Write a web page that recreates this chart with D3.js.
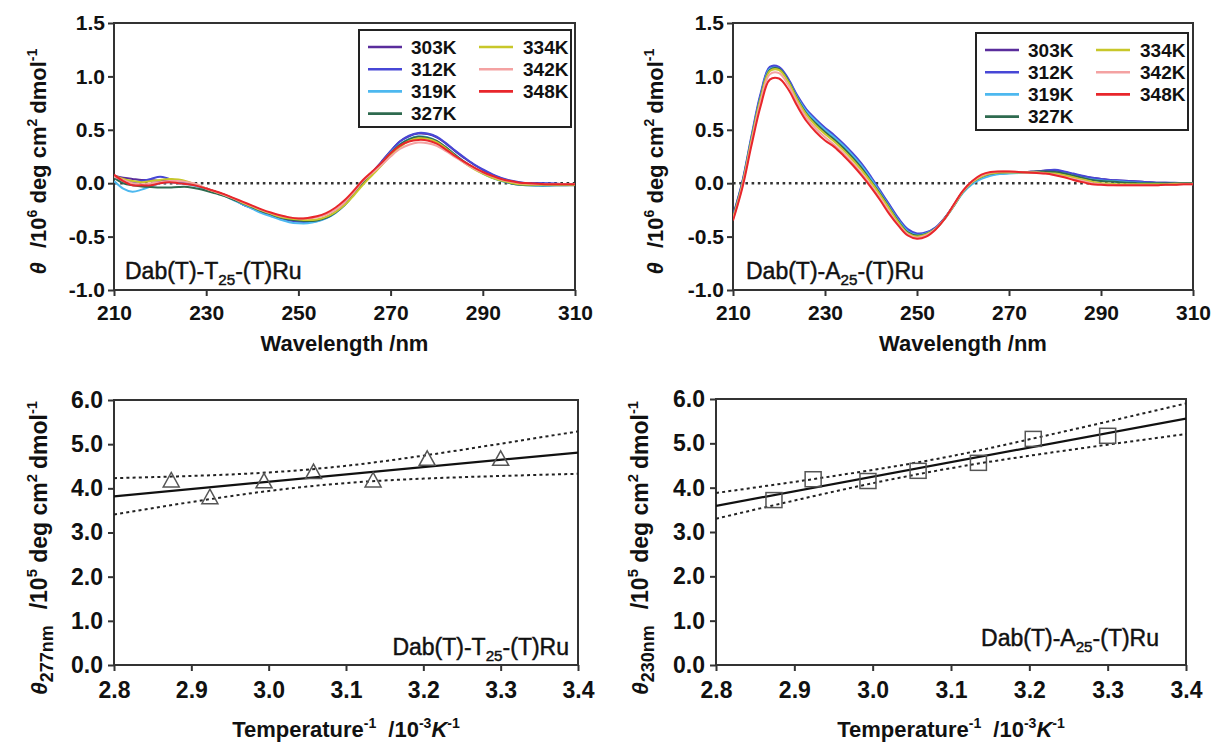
<!DOCTYPE html>
<html><head><meta charset="utf-8">
<script src="https://cdn.jsdelivr.net/npm/d3@7"></script>
<style>
body{margin:0;background:#fff;}
svg{display:block;font-family:"Liberation Sans",Arial,Helvetica,sans-serif;}
</style></head>
<body><svg id="c" width="1212" height="747"></svg>
<script>
// ---------------- DATA ----------------
const temps = ["303K","312K","319K","327K","334K","342K","348K"];
const wavelengths = [210,212,214,216,218,220,222,224,226,228,230,232,234,236,238,240,242,244,246,248,250,252,254,256,258,260,262,264,266,268,270,272,274,276,278,280,282,284,286,288,290,292,294,296,298,300,302,304,306,308,310];

// Dab(T)-T25-(T)Ru, theta /1e6
const t25_303 = [0.07,0.05,0.04,0.03,0.03,0.02,0.02,0.01,0.0,-0.02,-0.05,-0.08,-0.11,-0.15,-0.20,-0.23,-0.265,-0.295,-0.32,-0.34,-0.355,-0.36,-0.35,-0.32,-0.27,-0.20,-0.10,0.01,0.10,0.20,0.30,0.39,0.44,0.465,0.46,0.43,0.37,0.30,0.235,0.175,0.125,0.08,0.045,0.02,0.005,0.0,0.0,-0.005,-0.005,-0.01,-0.01];
const t25_312 = [0.05,0.03,0.01,0.02,0.04,0.06,0.04,0.02,0.0,-0.02,-0.05,-0.08,-0.11,-0.15,-0.20,-0.235,-0.27,-0.30,-0.33,-0.35,-0.36,-0.365,-0.355,-0.325,-0.275,-0.205,-0.105,0.005,0.095,0.195,0.30,0.39,0.445,0.47,0.465,0.435,0.375,0.305,0.24,0.18,0.13,0.085,0.05,0.025,0.01,0.0,0.0,0.0,-0.005,-0.01,-0.01];
const t25_319 = [0.02,-0.05,-0.08,-0.06,-0.03,0.0,0.01,0.0,-0.01,-0.03,-0.06,-0.09,-0.12,-0.16,-0.20,-0.24,-0.28,-0.31,-0.34,-0.365,-0.375,-0.375,-0.36,-0.33,-0.28,-0.205,-0.105,0.0,0.09,0.185,0.285,0.365,0.415,0.44,0.43,0.395,0.335,0.265,0.20,0.14,0.09,0.05,0.02,0.0,-0.015,-0.02,-0.025,-0.025,-0.02,-0.02,-0.015];
const t25_327 = [0.05,0.0,-0.02,-0.03,-0.035,-0.04,-0.04,-0.035,-0.035,-0.05,-0.07,-0.095,-0.12,-0.155,-0.19,-0.225,-0.26,-0.29,-0.32,-0.34,-0.35,-0.355,-0.35,-0.325,-0.275,-0.205,-0.105,0.0,0.09,0.18,0.28,0.36,0.41,0.435,0.425,0.395,0.335,0.265,0.20,0.145,0.095,0.055,0.025,0.0,-0.015,-0.02,-0.02,-0.02,-0.02,-0.02,-0.02];
const t25_334 = [0.07,0.04,0.02,0.01,0.02,0.03,0.04,0.035,0.015,-0.015,-0.05,-0.08,-0.11,-0.145,-0.185,-0.22,-0.255,-0.285,-0.315,-0.33,-0.34,-0.345,-0.34,-0.315,-0.27,-0.205,-0.115,-0.015,0.075,0.165,0.26,0.34,0.395,0.42,0.415,0.385,0.325,0.255,0.19,0.135,0.09,0.05,0.025,0.005,-0.01,-0.015,-0.015,-0.015,-0.015,-0.015,-0.015];
const t25_342 = [0.06,0.03,0.0,-0.01,0.0,0.01,0.02,0.02,0.01,-0.01,-0.05,-0.08,-0.11,-0.145,-0.18,-0.215,-0.25,-0.28,-0.305,-0.32,-0.33,-0.33,-0.32,-0.295,-0.25,-0.18,-0.085,0.02,0.095,0.17,0.25,0.32,0.36,0.38,0.375,0.35,0.30,0.245,0.19,0.14,0.10,0.065,0.035,0.015,0.0,-0.005,-0.01,-0.01,-0.01,-0.01,-0.01];
const t25_348 = [0.08,0.02,-0.02,-0.02,-0.02,0.0,0.01,0.0,-0.01,-0.025,-0.05,-0.075,-0.105,-0.14,-0.175,-0.21,-0.245,-0.275,-0.30,-0.32,-0.33,-0.325,-0.31,-0.28,-0.23,-0.16,-0.07,0.03,0.11,0.19,0.28,0.35,0.39,0.405,0.40,0.37,0.315,0.255,0.20,0.15,0.105,0.07,0.04,0.02,0.005,0.0,-0.005,-0.01,-0.01,-0.01,-0.01];

// Dab(T)-A25-(T)Ru, theta /1e6
const a25_303 = [-0.31,0.00,0.42,0.82,1.08,1.08,0.97,0.81,0.68,0.59,0.51,0.44,0.36,0.27,0.17,0.05,-0.08,-0.21,-0.34,-0.44,-0.48,-0.465,-0.42,-0.33,-0.21,-0.08,0.01,0.055,0.08,0.09,0.10,0.10,0.105,0.11,0.12,0.12,0.105,0.085,0.065,0.05,0.04,0.03,0.025,0.02,0.015,0.01,0.005,0.005,0.0,0.0,0.0];
const a25_312 = [-0.30,0.01,0.44,0.84,1.09,1.09,0.98,0.82,0.69,0.60,0.52,0.45,0.37,0.28,0.18,0.06,-0.07,-0.20,-0.33,-0.43,-0.47,-0.46,-0.415,-0.325,-0.205,-0.075,0.01,0.055,0.08,0.09,0.095,0.10,0.105,0.11,0.12,0.125,0.11,0.09,0.07,0.05,0.04,0.03,0.025,0.02,0.015,0.01,0.005,0.005,0.005,0.0,0.0];
const a25_319 = [-0.32,-0.01,0.42,0.81,1.07,1.07,0.96,0.80,0.67,0.58,0.50,0.43,0.35,0.26,0.16,0.04,-0.09,-0.22,-0.35,-0.45,-0.485,-0.47,-0.425,-0.335,-0.215,-0.09,-0.01,0.04,0.07,0.085,0.09,0.095,0.10,0.10,0.10,0.10,0.09,0.07,0.05,0.035,0.025,0.02,0.015,0.01,0.005,0.0,0.0,-0.005,-0.005,-0.005,-0.005];
const a25_327 = [-0.32,-0.01,0.41,0.80,1.06,1.07,0.96,0.79,0.65,0.56,0.48,0.41,0.33,0.24,0.14,0.02,-0.10,-0.23,-0.36,-0.46,-0.49,-0.475,-0.425,-0.33,-0.21,-0.08,0.01,0.06,0.09,0.10,0.105,0.105,0.105,0.11,0.11,0.105,0.09,0.07,0.05,0.03,0.02,0.015,0.01,0.005,0.0,0.0,0.0,0.0,0.0,0.0,0.0];
const a25_334 = [-0.33,-0.02,0.40,0.79,1.05,1.06,0.95,0.78,0.64,0.54,0.46,0.39,0.31,0.22,0.12,0.01,-0.11,-0.24,-0.37,-0.47,-0.50,-0.48,-0.43,-0.335,-0.21,-0.08,0.01,0.06,0.09,0.10,0.10,0.10,0.10,0.10,0.095,0.09,0.075,0.055,0.035,0.015,0.0,-0.005,-0.01,-0.01,-0.01,-0.01,-0.01,-0.01,-0.005,-0.005,-0.005];
const a25_342 = [-0.34,-0.03,0.38,0.76,1.02,1.03,0.92,0.75,0.61,0.51,0.43,0.36,0.28,0.19,0.09,-0.02,-0.14,-0.27,-0.39,-0.48,-0.51,-0.49,-0.43,-0.335,-0.205,-0.075,0.015,0.07,0.10,0.11,0.11,0.105,0.10,0.10,0.09,0.08,0.06,0.04,0.02,0.0,-0.01,-0.015,-0.02,-0.02,-0.02,-0.02,-0.02,-0.015,-0.015,-0.01,-0.01];
const a25_348 = [-0.35,-0.05,0.35,0.72,0.97,0.98,0.88,0.72,0.58,0.48,0.40,0.34,0.26,0.17,0.07,-0.04,-0.16,-0.29,-0.40,-0.49,-0.52,-0.50,-0.435,-0.335,-0.20,-0.07,0.02,0.08,0.105,0.11,0.11,0.105,0.10,0.095,0.09,0.075,0.055,0.03,0.01,-0.01,-0.015,-0.02,-0.02,-0.02,-0.02,-0.02,-0.02,-0.015,-0.015,-0.01,-0.01];

// van't Hoff style plots
const invTemp = [2.874, 2.924, 2.994, 3.058, 3.135, 3.205, 3.300]; // 1/T, 10^-3 K^-1 (348K ... 303K)
const theta277 = [4.19, 3.81, 4.17, 4.38, 4.19, 4.68, 4.68];
const theta230 = [3.72, 4.19, 4.15, 4.38, 4.56, 5.10, 5.17];
const fitX = [2.8, 3.4];
const fit277 = [3.82, 4.81];
const fit230 = [3.59, 5.56];
const bandX = [2.8, 2.9, 3.0, 3.1, 3.2, 3.3, 3.4];
const upper277 = [4.23, 4.28, 4.36, 4.51, 4.74, 5.01, 5.29];
const lower277 = [3.41, 3.69, 3.94, 4.12, 4.22, 4.28, 4.33];
const upper230 = [3.88, 4.13, 4.40, 4.71, 5.09, 5.49, 5.90];
const lower230 = [3.30, 3.71, 4.10, 4.44, 4.72, 4.97, 5.21];

const wlTicks = [210, 230, 250, 270, 290, 310];
const cdTicks = [-1.0, -0.5, 0.0, 0.5, 1.0, 1.5];
const invTTicks = [2.8, 2.9, 3.0, 3.1, 3.2, 3.3, 3.4];
const thTicks = [0, 1, 2, 3, 4, 5, 6];

// styles
const palette = ["#5a2d9c","#4747d6","#4db8ef","#2e6a4f","#c8c72a","#f4a2a2","#e8262b"];
const FONT = '"Liberation Sans",Arial,Helvetica,sans-serif';

const svg = d3.select("#c");
svg.append("rect").attr("width",1212).attr("height",747).attr("fill","#fff");

function rich(sel, parts, size, subScale){
  let cur = 0;
  parts.forEach(p=>{
    const ts = sel.append("tspan").text(p.t);
    let target = 0, fs = size;
    if(p.sup){ target = -size*0.42; fs = size*0.64; }
    if(p.sub){ target = size*0.28; fs = size*(subScale||0.66); }
    ts.attr("font-size", fs);
    if(target-cur !== 0) ts.attr("dy", target-cur);
    if(p.dx) ts.attr("dx", p.dx);
    if(p.it) ts.attr("font-style","italic");
    cur = target;
  });
}

function panel(o){
  const x = d3.scaleLinear().domain(o.xd).range([o.x0,o.x1]);
  const y = d3.scaleLinear().domain(o.yd).range([o.y1,o.y0]);
  const g = svg.append("g");
  const clipId = "clip"+Math.round(o.x0)+"_"+Math.round(o.y0);
  g.append("clipPath").attr("id",clipId).append("rect")
    .attr("x",o.x0).attr("y",o.y0).attr("width",o.x1-o.x0).attr("height",o.y1-o.y0);
  const ax = g.append("g").attr("transform",`translate(0,${o.y1})`)
    .call(d3.axisBottom(x).tickValues(o.xt).tickSize(6).tickPadding(o.xpad).tickSizeOuter(0).tickFormat(o.xf));
  const ay = g.append("g").attr("transform",`translate(${o.x0},0)`)
    .call(d3.axisLeft(y).tickValues(o.yt).tickSize(6).tickPadding(o.ypad).tickSizeOuter(0).tickFormat(o.yf));
  [ax,ay].forEach(a=>{
    a.select(".domain").remove();
    a.selectAll(".tick line").attr("stroke","#333").attr("stroke-width",2);
    a.selectAll(".tick text").attr("font-family",FONT).attr("font-weight","bold")
      .attr("font-size",o.tfs).attr("fill","#111");
  });
  g.append("rect").attr("x",o.x0).attr("y",o.y0).attr("width",o.x1-o.x0).attr("height",o.y1-o.y0)
    .attr("fill","none").attr("stroke","#333").attr("stroke-width",2);
  const plot = g.append("g").attr("clip-path",`url(#${clipId})`);
  return {x,y,g,plot};
}
const fmtSigned = d => (d<0?"-":"") + Math.abs(d).toFixed(1);

function panelLabel(g, label, anchor){
  const lt = g.append("text").attr("x",label.x).attr("y",label.y).attr("font-family",FONT)
    .attr("font-size",23).attr("fill","#111").attr("stroke","#111").attr("stroke-width",0.45)
    .attr("text-anchor",anchor);
  rich(lt,[{t:"Dab(T)-"+label.b},{t:"25",sub:true},{t:"-(T)Ru"}],23);
}

// ---------- spectra panels ----------
function spectra(o, series, legendBox, label){
  const p = panel(Object.assign({xd:[210,310], yd:[-1,1.5], xt:wlTicks, yt:cdTicks,
    xf:d=>String(d), yf:fmtSigned, xpad:9, ypad:3, tfs:21}, o));
  p.plot.append("line").attr("x1",o.x0).attr("x2",o.x1).attr("y1",p.y(0)).attr("y2",p.y(0))
    .attr("stroke","#333").attr("stroke-width",2.6).attr("stroke-dasharray","2.6,3.6");
  const line = d3.line().x((d,i)=>p.x(wavelengths[i])).y(d=>p.y(d)).curve(d3.curveCatmullRom.alpha(0.5));
  series.forEach((s,i)=>{
    p.plot.append("path").attr("d",line(s)).attr("fill","none")
      .attr("stroke",palette[i]).attr("stroke-width",2).attr("stroke-linejoin","round");
  });
  // legend
  const L = legendBox.x, T = legendBox.y;
  const lg = p.g.append("g");
  lg.append("rect").attr("x",L).attr("y",T).attr("width",legendBox.w).attr("height",legendBox.h)
    .attr("fill","#fff").attr("stroke","#222").attr("stroke-width",2);
  temps.forEach((t,i)=>{
    const col = i<4?0:1, row = i<4?i:i-4;
    const lx = L + (col===0?9:120), tx = L + (col===0?52:164);
    const cy = T + 17 + row*22.2;
    lg.append("line").attr("x1",lx).attr("x2",lx+34).attr("y1",cy).attr("y2",cy)
      .attr("stroke",palette[i]).attr("stroke-width",2.6);
    lg.append("text").attr("x",tx).attr("y",cy).attr("dy","0.36em").text(t)
      .attr("font-family",FONT).attr("font-weight","bold").attr("font-size",19).attr("fill","#111");
  });
  panelLabel(p.g, label, "start");
  // x title
  svg.append("text").attr("x",(o.x0+o.x1)/2).attr("y",351).attr("text-anchor","middle")
    .attr("font-family",FONT).attr("font-weight","bold").attr("font-size",22).attr("fill","#111")
    .text("Wavelength /nm");
  // y title
  const yt = svg.append("text").attr("transform",`translate(${o.ytx},${(o.y0+o.y1)/2+5}) rotate(-90)`)
    .attr("text-anchor","middle").attr("font-family",FONT).attr("font-weight","bold").attr("fill","#111");
  rich(yt,[{t:"θ",it:true},{t:"/10",dx:14},{t:"6",sup:true},{t:" deg cm"},{t:"2",sup:true},{t:"dmol",dx:5},{t:"-1",sup:true}],22);
  return p;
}

spectra({x0:114,x1:575,y0:23,y1:290,ytx:46},
  [t25_303,t25_312,t25_319,t25_327,t25_334,t25_342,t25_348],
  {x:359,y:30,w:212,h:97},{x:125,y:279,b:"T"});
spectra({x0:733,x1:1193,y0:23,y1:290,ytx:663},
  [a25_303,a25_312,a25_319,a25_327,a25_334,a25_342,a25_348],
  {x:976,y:33,w:212,h:97},{x:746,y:279,b:"A"});

// ---------- van't Hoff panels ----------
function vhoff(o, vals, fit, up, lo, shape, label, sub){
  const p = panel(Object.assign({xd:[2.8,3.4], yd:[0,6], xt:invTTicks, yt:thTicks,
    xf:d3.format(".1f"), yf:d3.format(".1f"), xpad:11, ypad:5, tfs:23}, o));
  const curve = d3.line().x((d,i)=>p.x(bandX[i])).y(d=>p.y(d)).curve(d3.curveNatural);
  [up,lo].forEach(b=>{
    p.plot.append("path").attr("d",curve(b)).attr("fill","none").attr("stroke","#222")
      .attr("stroke-width",2).attr("stroke-dasharray","3,3.2");
  });
  const fl = d3.line().x((d,i)=>p.x(fitX[i])).y(d=>p.y(d));
  p.plot.append("path").attr("d",fl(fit)).attr("fill","none").attr("stroke","#111").attr("stroke-width",2.2);
  vals.forEach((v,i)=>{
    const cx = p.x(invTemp[i]), cy = p.y(v);
    if(shape==="tri"){
      p.g.append("path").attr("d",`M${cx},${cy-7.5}L${cx+8},${cy+7}L${cx-8},${cy+7}Z`)
        .attr("fill","none").attr("stroke","#555").attr("stroke-width",1.5);
    } else {
      p.g.append("rect").attr("x",cx-8).attr("y",cy-7.5).attr("width",16).attr("height",15)
        .attr("fill","none").attr("stroke","#555").attr("stroke-width",1.5);
    }
  });
  panelLabel(p.g, label, "end");
  // x title
  const xt = svg.append("text").attr("x",(o.x0+o.x1)/2).attr("y",737).attr("text-anchor","middle")
    .attr("font-family",FONT).attr("font-weight","bold").attr("font-size",22).attr("fill","#111");
  rich(xt,[{t:"Temperature"},{t:"-1",sup:true},{t:"/10",dx:12},{t:"-3",sup:true},{t:"K",it:true},{t:"-1",sup:true}],22);
  // y title
  const yt = svg.append("text").attr("transform",`translate(${o.ytx},548) rotate(-90)`)
    .attr("text-anchor","middle").attr("font-family",FONT).attr("font-weight","bold").attr("fill","#111");
  rich(yt,[{t:"θ",it:true},{t:sub,sub:true},{t:"/10",dx:16},{t:"5",sup:true},{t:" deg cm"},{t:"2",sup:true},{t:"dmol",dx:5},{t:"-1",sup:true}],23,0.78);
}

vhoff({x0:114,x1:578,y0:400,y1:665,ytx:47}, theta277, fit277, upper277, lower277, "tri",
  {x:569,y:655,b:"T"}, "277nm");
vhoff({x0:716,x1:1186,y0:399,y1:665,ytx:648}, theta230, fit230, upper230, lower230, "sq",
  {x:1159,y:646,b:"A"}, "230nm");
</script></body></html>
